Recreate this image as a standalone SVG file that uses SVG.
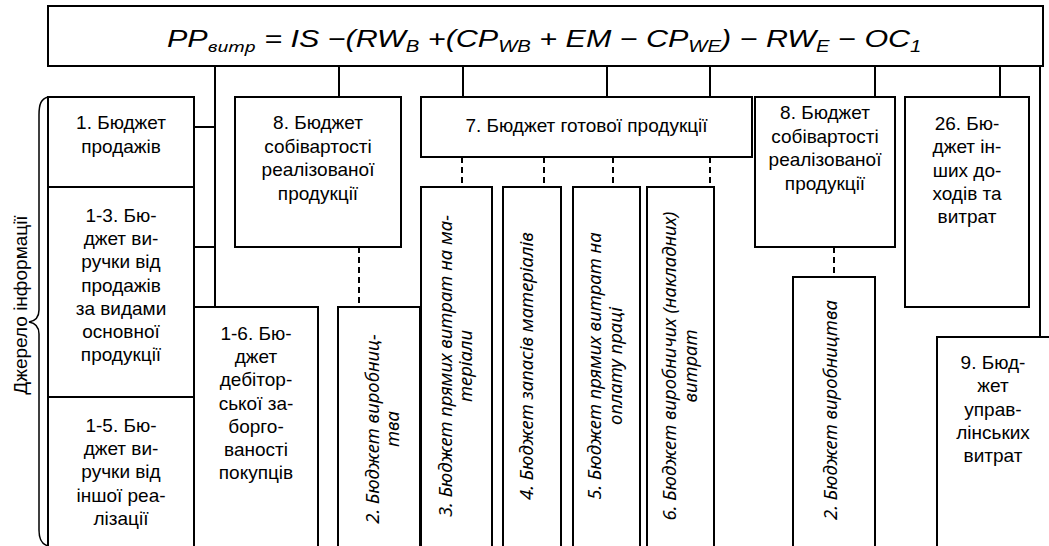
<svg xmlns="http://www.w3.org/2000/svg" width="1049" height="546" viewBox="0 0 1049 546">
  <style>
    .box { fill: #fff; stroke: #000; stroke-width: 2; }
    .ln { stroke: #000; stroke-width: 2; fill: none; }
    .dash { stroke: #000; stroke-width: 2; fill: none; stroke-dasharray: 6 4; }
    .t { font-family: "Liberation Sans", Arial, sans-serif; font-size: 19px; text-anchor: middle; fill: #000; }
    .it { font-family: "Noto Sans", "Liberation Sans", Arial, sans-serif; font-style: italic; font-size: 18.5px; }
    .f { font-family: "Liberation Sans", Arial, sans-serif; font-size: 24px; font-style: italic; fill: #000; }
    .sub { font-size: 16px; }
    .cyr { font-family: "Noto Sans", "Liberation Sans", sans-serif; font-size: 15px; }
  </style>

  <!-- formula header -->
  <g id="formula">
    <rect class="box" x="48" y="6" width="995" height="60"/>
    <g transform="translate(167,47) scale(1.27,1)">
      <text class="f" x="0" y="0">PP<tspan class="sub cyr" dy="5">витр</tspan><tspan dy="-5"> = IS −(RW</tspan><tspan class="sub" dy="5">B</tspan><tspan dy="-5"> +(CP</tspan><tspan class="sub" dy="5">WB</tspan><tspan dy="-5"> + EM − CP</tspan><tspan class="sub" dy="5">WE</tspan><tspan dy="-5">) − RW</tspan><tspan class="sub" dy="5">E</tspan><tspan dy="-5"> − OC</tspan><tspan class="sub" dy="5">1</tspan></text>
    </g>
  </g>

  <!-- connectors -->
  <g id="connectors">
    <path class="ln" d="M215,66 V307 M194,127 H215 M194,247 H215"/>
    <path class="ln" d="M339,66 V97 M463,66 V97 M607,66 V97 M710,66 V97 M875,66 V97 M1000,66 V97 M1040,66 V337"/>
    <path class="dash" d="M359,247 V307 M834,247 V277"/>
    <path class="dash" d="M462,157 V187 M544,157 V187 M613,157 V187 M710,157 V187"/>
  </g>

  <!-- source bracket -->
  <g id="source">
    <path d="M48,97 C41,99 39,104 39,115 L39,310 C39,318 35,321 29,322 C35,323 39,326 39,334 L39,530 C39,540 42,545 49,546" fill="none" stroke="#000" stroke-width="1.5"/>
    <text class="t" transform="translate(27,305) rotate(-90)">Джерело інформації</text>
  </g>

  <g id="b1">
    <rect class="box" x="48" y="97" width="146" height="90"/>
    <text class="t" x="121" y="129">1. Бюджет<tspan x="121" y="153">продажів</tspan></text>
  </g>

  <g id="b1-3">
    <rect class="box" x="48" y="187" width="146" height="210"/>
    <text class="t" x="121" y="222">1-3. Бю-<tspan x="121" y="245.2">джет ви-</tspan><tspan x="121" y="268.4">ручки від</tspan><tspan x="121" y="291.6">продажів</tspan><tspan x="121" y="314.8">за видами</tspan><tspan x="121" y="338">основної</tspan><tspan x="121" y="361.2">продукції</tspan></text>
  </g>

  <g id="b1-5">
    <rect class="box" x="48" y="397" width="146" height="163"/>
    <text class="t" x="121" y="432">1-5. Бю-<tspan x="121" y="455.2">джет ви-</tspan><tspan x="121" y="478.4">ручки від</tspan><tspan x="121" y="501.6">іншої реа-</tspan><tspan x="121" y="524.8">лізації</tspan></text>
  </g>

  <g id="b1-6">
    <rect class="box" x="194" y="307" width="124" height="253"/>
    <text class="t" x="256" y="340">1-6. Бю-<tspan x="256" y="363.2">джет</tspan><tspan x="256" y="386.4">дебітор-</tspan><tspan x="256" y="409.6">ської за-</tspan><tspan x="256" y="432.8">борго-</tspan><tspan x="256" y="456">ваності</tspan><tspan x="256" y="479.2">покупців</tspan></text>
  </g>

  <g id="b8a">
    <rect class="box" x="235" y="97" width="166" height="150"/>
    <text class="t" x="318" y="129">8. Бюджет<tspan x="318" y="152.5">собівартості</tspan><tspan x="318" y="176">реалізованої</tspan><tspan x="318" y="199.5">продукції</tspan></text>
  </g>

  <g id="b2a">
    <rect class="box" x="338" y="307" width="82" height="253"/>
    <text class="t it" transform="translate(379,429) rotate(-90)">2. Бюджет виробниц-<tspan x="0" y="20">тва</tspan></text>
  </g>

  <g id="b7">
    <rect class="box" x="421" y="97" width="331" height="60"/>
    <text class="t" x="586.5" y="132">7. Бюджет готової продукції</text>
  </g>

  <g id="b3">
    <rect class="box" x="421" y="187" width="71" height="373"/>
    <text class="t it" transform="translate(452,366) rotate(-90)">3. Бюджет прямих витрат на ма-<tspan x="0" y="20">теріали</tspan></text>
  </g>

  <g id="b4">
    <rect class="box" x="503" y="187" width="58" height="373"/>
    <text class="t it" transform="translate(533,366) rotate(-90)">4. Бюджет запасів матеріалів</text>
  </g>

  <g id="b5">
    <rect class="box" x="573" y="187" width="67" height="373"/>
    <text class="t it" transform="translate(601,366) rotate(-90)">5. Бюджет прямих витрат на<tspan x="0" y="21">оплату праці</tspan></text>
  </g>

  <g id="b6">
    <rect class="box" x="647" y="187" width="67" height="373"/>
    <text class="t it" transform="translate(676,366) rotate(-90)">6. Бюджет виробничих (накладних)<tspan x="0" y="21">витрат</tspan></text>
  </g>

  <g id="b8b">
    <rect class="box" x="755" y="97" width="140" height="150"/>
    <text class="t" x="825" y="119">8. Бюджет<tspan x="825" y="142.5">собівартості</tspan><tspan x="825" y="166">реалізованої</tspan><tspan x="825" y="189.5">продукції</tspan></text>
  </g>

  <g id="b2b">
    <rect class="box" x="793" y="277" width="82" height="283"/>
    <text class="t it" transform="translate(837,410) rotate(-90)">2. Бюджет виробництва</text>
  </g>

  <g id="b26">
    <rect class="box" x="905" y="97" width="124" height="210"/>
    <text class="t" x="967" y="130">26. Бю-<tspan x="967" y="153.3">джет ін-</tspan><tspan x="967" y="176.6">ших до-</tspan><tspan x="967" y="200">ходів та</tspan><tspan x="967" y="223.3">витрат</tspan></text>
  </g>

  <g id="b9">
    <rect class="box" x="937" y="337" width="120" height="223"/>
    <text class="t" x="993" y="369">9. Бюд-<tspan x="993" y="392.3">жет</tspan><tspan x="993" y="415.6">управ-</tspan><tspan x="993" y="439">лінських</tspan><tspan x="993" y="462.3">витрат</tspan></text>
  </g>
</svg>
